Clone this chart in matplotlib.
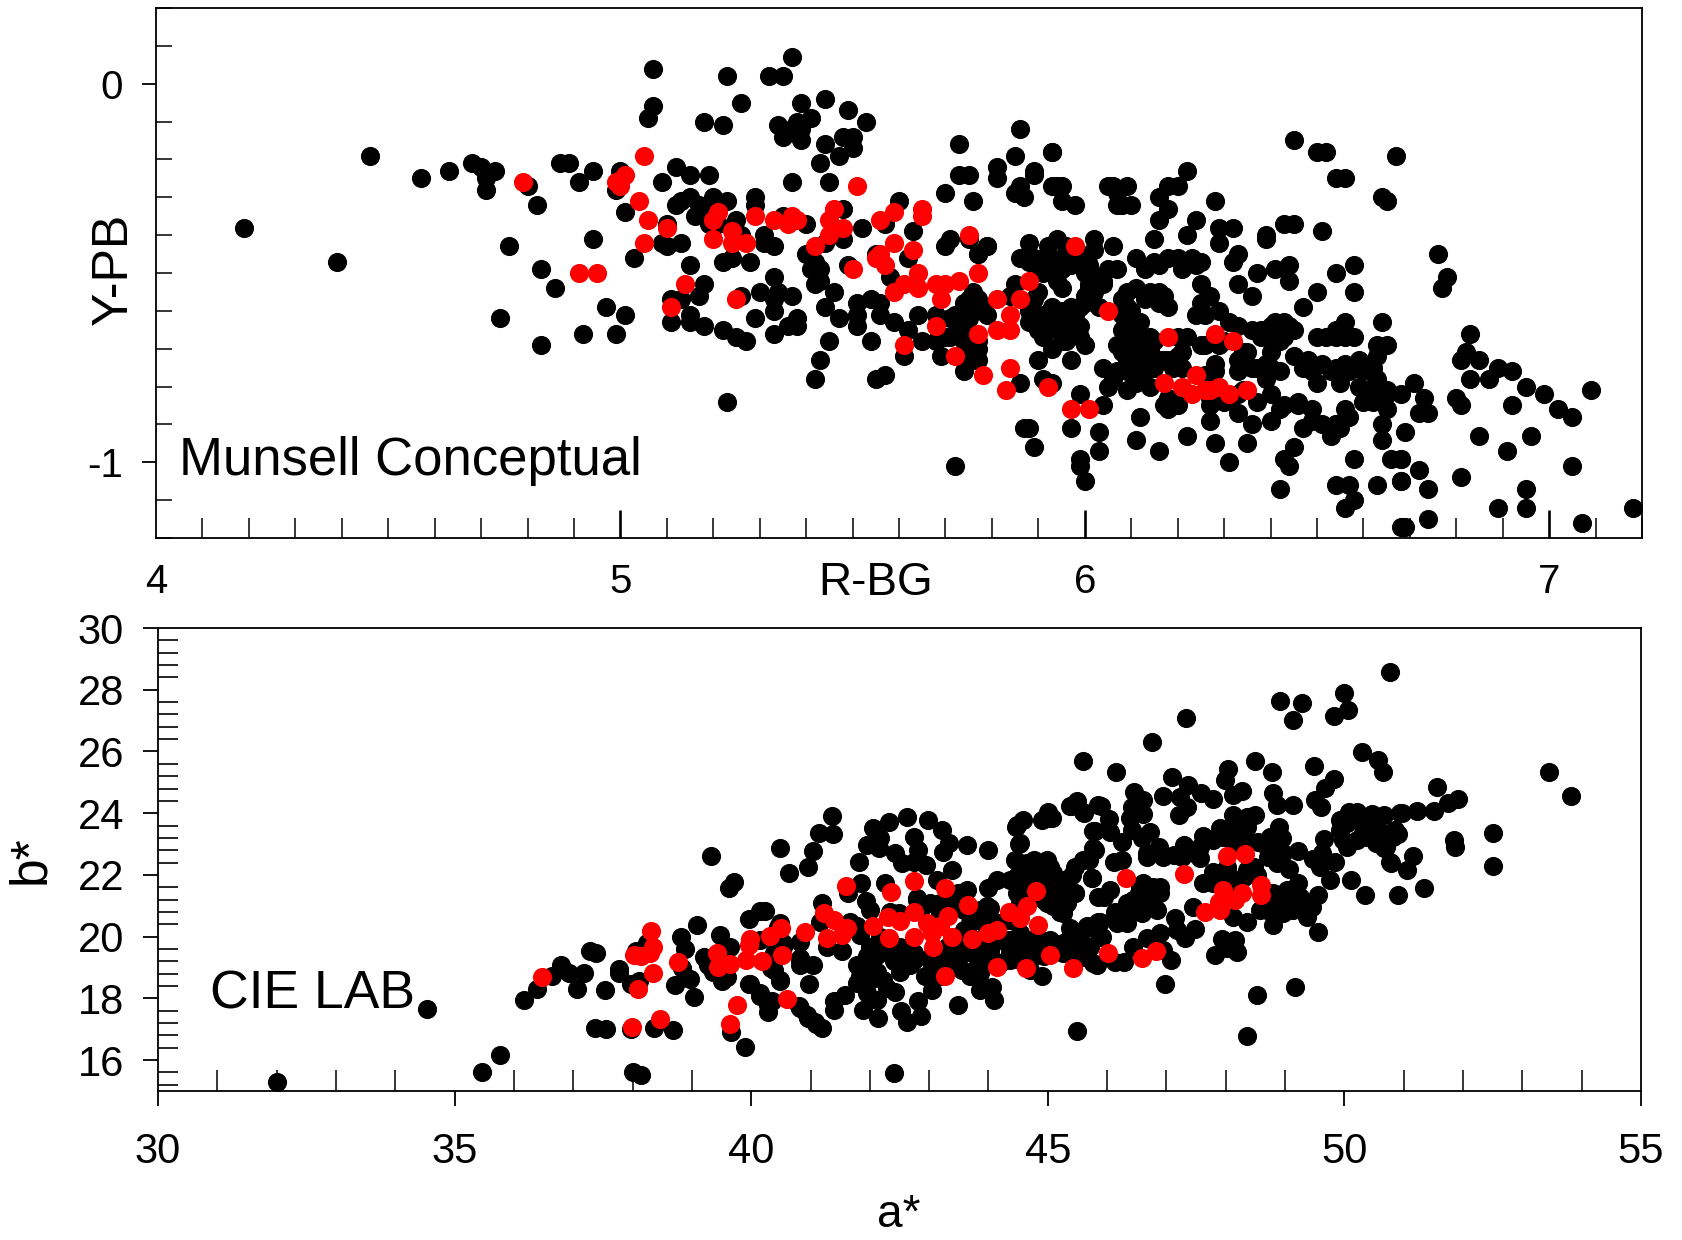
import matplotlib
matplotlib.use('Agg')
import matplotlib.pyplot as plt
from matplotlib.ticker import MultipleLocator

plt.rcParams['font.family'] = ['Liberation Sans', 'DejaVu Sans']
plt.rcParams['axes.unicode_minus'] = False

# (R-BG, Y-PB) values
munsell_black_left = [
    (4.19,-0.38),(4.39,-0.47),(4.46,-0.19),(4.57,-0.25),(4.63,-0.23),(4.68,-0.21),(4.70,-0.22),(4.73,-0.23),
    (4.71,-0.25),(4.71,-0.28),(4.80,-0.27),(4.82,-0.32),(4.87,-0.21),(4.89,-0.21),(4.91,-0.26),(4.94,-0.23),
    (4.94,-0.41),(4.76,-0.43),(4.83,-0.49),(4.86,-0.54),(4.74,-0.62),(4.83,-0.69),(4.92,-0.66),
]
munsell_black_mid = [
    (5.37,0.07),(5.07,0.04),(5.23,0.02),(5.32,0.02),(5.35,0.02),(5.26,-0.05),(5.07,-0.06),(5.06,-0.09),
    (5.18,-0.10),(5.22,-0.11),(5.39,-0.05),(5.44,-0.04),(5.49,-0.07),(5.53,-0.10),(5.34,-0.11),(5.41,-0.09),
    (5.38,-0.10),(5.37,-0.12),(5.39,-0.12),(5.35,-0.14),(5.39,-0.15),(5.48,-0.14),(5.50,-0.14),(5.44,-0.16),
    (5.50,-0.17),(5.47,-0.19),(5.43,-0.21),(5.37,-0.26),(5.45,-0.26),(5.73,-0.16),(5.86,-0.12),(5.85,-0.19),
    (5.81,-0.22),(5.89,-0.23),(5.73,-0.24),(5.75,-0.24),(5.81,-0.25),(5.89,-0.24),(5.86,-0.27),(5.85,-0.29),
    (5.87,-0.30),(5.70,-0.29),(5.76,-0.31),(5.93,-0.18),(5.93,-0.27),(5.60,-0.31),(5.00,-0.23),(4.99,-0.28),
    (5.12,-0.22),(5.15,-0.24),(5.19,-0.24),(5.09,-0.26),(5.01,-0.34),(5.12,-0.32),(5.15,-0.30),(5.13,-0.31),
    (5.17,-0.32),(5.20,-0.30),(5.23,-0.31),(5.29,-0.30),(5.29,-0.32),(5.16,-0.35),(5.18,-0.34),(5.25,-0.36),
    (5.10,-0.37),(5.19,-0.37),(5.21,-0.37),(5.09,-0.42),(5.13,-0.42),(5.10,-0.43),(5.26,-0.40),(5.31,-0.40),
    (5.31,-0.42),(5.33,-0.43),(5.35,-0.35),(5.40,-0.37),(5.48,-0.33),(5.48,-0.41),(5.44,-0.42),(5.52,-0.38),
    (5.57,-0.37),(5.63,-0.39),(5.71,-0.41),(5.70,-0.43),(5.75,-0.41),(5.79,-0.43),(5.77,-0.45),(5.03,-0.46),
    (5.15,-0.48),(5.22,-0.47),(5.24,-0.46),(5.28,-0.47),(5.40,-0.45),(5.42,-0.47),(5.41,-0.49),(5.43,-0.49),
    (5.49,-0.48),(5.55,-0.45),(5.62,-0.46),(5.58,-0.51),(5.33,-0.51),(5.42,-0.53),(5.43,-0.52),(5.18,-0.53),
    (5.17,-0.56),(5.30,-0.55),(5.34,-0.55),(5.37,-0.56),(5.46,-0.55),(5.33,-0.57),(5.33,-0.60),(5.26,-0.56),
    (5.11,-0.57),(5.13,-0.57),(4.97,-0.59),(5.01,-0.61),(4.99,-0.66),(5.15,-0.61),(5.11,-0.63),(5.15,-0.63),
    (5.18,-0.64),(5.22,-0.65),(5.25,-0.67),(5.27,-0.68),(5.29,-0.62),(5.33,-0.66),(5.36,-0.64),(5.38,-0.62),
    (5.38,-0.64),(5.44,-0.59),(5.47,-0.62),(5.45,-0.68),(5.43,-0.73),(5.42,-0.78),(5.23,-0.84),(5.51,-0.58),
    (5.54,-0.57),(5.56,-0.58),(5.51,-0.61),(5.51,-0.64),(5.56,-0.61),(5.59,-0.63),(5.54,-0.68),(5.55,-0.78),
    (5.57,-0.77),(5.62,-0.65),(5.64,-0.61),(5.65,-0.68),(5.68,-0.61),(5.70,-0.67),(5.69,-0.72),(5.61,-0.72),
    (5.68,-0.68),
]
munsell_black_right = [
    (5.93,-0.18),(5.94,-0.27),(5.95,-0.27),(5.95,-0.31),(5.98,-0.32),(6.05,-0.27),(6.06,-0.27),(6.09,-0.27),
    (6.07,-0.32),(6.08,-0.32),(6.10,-0.32),(6.07,-0.29),(6.18,-0.27),(6.20,-0.27),(6.22,-0.23),(6.16,-0.30),
    (6.18,-0.33),(6.16,-0.36),(6.15,-0.41),(6.22,-0.40),(6.24,-0.36),(6.28,-0.31),(6.29,-0.38),(6.32,-0.38),
    (6.29,-0.42),(6.39,-0.40),(6.39,-0.41),(6.43,-0.37),(6.45,-0.37),(6.51,-0.39),(6.50,-0.18),(6.52,-0.18),
    (6.54,-0.25),(6.56,-0.25),(6.45,-0.15),(6.64,-0.30),(6.65,-0.31),(6.67,-0.19),(6.33,-0.45),(6.32,-0.47),
    (6.37,-0.50),(6.41,-0.49),(6.44,-0.48),(6.44,-0.52),(6.33,-0.53),(6.36,-0.56),(6.54,-0.50),(6.58,-0.48),
    (6.58,-0.55),(6.50,-0.55),(6.47,-0.59),(6.64,-0.63),(6.56,-0.63),(6.54,-0.65),(6.52,-0.67),(6.50,-0.67),
    (6.54,-0.67),(6.56,-0.67),(6.58,-0.67),(6.63,-0.69),(6.65,-0.69),(5.79,-0.43),(5.77,-0.45),(5.88,-0.42),
    (5.92,-0.43),(5.94,-0.41),(5.96,-0.43),(6.02,-0.41),(6.02,-0.44),(6.06,-0.43),(5.86,-0.46),(5.89,-0.46),
    (5.91,-0.46),(5.93,-0.47),(5.97,-0.48),(6.01,-0.48),(5.93,-0.50),(5.95,-0.54),(5.94,-0.52),(6.01,-0.53),
    (6.04,-0.53),(6.05,-0.49),(6.07,-0.49),(6.03,-0.51),(6.01,-0.54),(6.00,-0.58),(6.11,-0.46),(6.13,-0.49),
    (6.15,-0.47),(6.16,-0.48),(6.18,-0.46),(6.20,-0.46),(6.21,-0.49),(6.23,-0.46),(6.24,-0.48),(6.25,-0.47),
    (6.25,-0.53),(6.27,-0.56),(6.25,-0.58),(6.29,-0.60),(6.24,-0.61),(6.26,-0.61),(6.09,-0.55),(6.11,-0.54),
    (6.14,-0.55),(6.16,-0.55),(6.13,-0.57),(6.16,-0.58),(6.18,-0.59),(6.17,-0.56),(6.09,-0.59),(6.09,-0.62),
    (6.12,-0.63),(6.11,-0.66),(6.14,-0.67),(6.07,-0.69),(6.10,-0.69),(6.12,-0.70),(6.14,-0.70),(6.09,-0.73),
    (6.12,-0.73),(6.09,-0.76),(6.12,-0.76),(6.04,-0.75),(6.06,-0.78),(6.05,-0.80),(6.09,-0.81),(6.11,-0.79),
    (6.14,-0.80),(6.16,-0.73),(6.18,-0.73),(6.20,-0.72),(6.21,-0.75),(6.28,-0.74),(6.26,-0.77),(6.20,-0.67),
    (6.22,-0.67),(6.25,-0.69),(6.26,-0.69),(6.30,-0.68),(6.31,-0.63),(6.33,-0.64),(6.36,-0.65),(6.35,-0.71),
    (6.33,-0.73),(6.33,-0.76),(6.40,-0.64),(6.43,-0.63),(6.45,-0.65),(6.38,-0.67),(6.40,-0.67),(6.43,-0.67),
    (6.40,-0.71),(6.37,-0.75),(6.42,-0.76),(6.39,-0.78),(6.40,-0.82),(6.37,-0.84),(6.42,-0.86),(6.40,-0.89),
    (6.46,-0.84),(6.45,-0.72),(6.48,-0.73),(6.47,-0.75),(6.51,-0.74),(6.50,-0.79),(6.53,-0.76),(6.56,-0.74),
    (6.55,-0.79),(6.59,-0.73),(6.60,-0.74),(6.63,-0.72),(6.62,-0.75),(6.63,-0.78),(6.59,-0.80),(6.60,-0.84),
    (6.62,-0.84),(6.65,-0.86),(6.65,-0.81),(6.68,-0.82),(6.64,-0.90),(6.64,-0.94),(6.49,-0.86),(6.47,-0.91),
    (6.51,-0.90),(6.53,-0.93),(6.54,-0.90),(6.56,-0.86),(6.55,-0.91),(6.57,-0.88),(6.45,-0.96),(6.43,-0.99),
    (6.44,-1.01),(6.58,-0.99),(6.66,-0.99),(6.68,-0.99),(6.42,-1.07),(6.54,-1.06),(6.57,-1.06),(6.63,-1.06),
    (6.68,-1.05),(6.58,-1.10),(6.56,-1.12),(6.68,-1.17),(6.31,-1.00),(6.28,-0.95),(6.35,-0.95),(6.22,-0.93),
    (6.16,-0.97),(6.11,-0.94),(6.12,-0.88),(6.36,-0.90),(6.33,-0.87),(6.27,-0.89),(6.27,-0.85),(6.30,-0.84),
    (6.17,-0.85),(6.18,-0.86),(6.20,-0.85),(6.03,-0.92),(6.03,-0.97),(5.97,-0.91),(6.04,-0.85),(5.99,-0.82),
    (5.87,-0.91),(5.88,-0.91),(5.89,-0.96),(5.99,-0.99),(5.99,-1.01),(6.00,-1.05),(5.72,-1.01),(5.91,-0.78),
    (5.93,-0.79),(5.86,-0.79),(5.90,-0.73),(5.97,-0.73),(6.00,-0.69),(5.93,-0.70),(5.95,-0.68),(5.93,-0.59),
    (5.97,-0.59),(5.91,-0.61),(5.94,-0.61),(5.96,-0.62),(5.99,-0.64),(5.92,-0.65),(5.96,-0.66),(5.88,-0.63),
    (5.88,-0.60),(5.90,-0.55),(5.89,-0.57),(5.85,-0.53),(5.84,-0.56),(5.76,-0.55),(5.74,-0.60),(5.76,-0.60),
    (5.79,-0.61),(5.72,-0.61),(5.77,-0.57),(5.71,-0.62),(5.74,-0.68),(5.77,-0.70),(5.77,-0.73),(5.76,-0.73),
    (5.74,-0.76),(5.74,-0.65),(5.71,-0.67),
    (6.76,-0.45),(6.78,-0.51),(6.77,-0.54),(6.83,-0.66),(6.82,-0.71),(6.81,-0.73),(6.85,-0.73),(6.89,-0.75),
    (6.92,-0.76),(6.83,-0.78),(6.87,-0.78),(6.95,-0.80),(6.99,-0.82),(7.09,-0.81),(6.80,-0.83),(6.81,-0.85),
    (6.92,-0.85),(7.02,-0.86),(7.05,-0.88),(6.85,-0.93),(6.96,-0.93),(6.91,-0.97),(7.05,-1.01),(6.81,-1.04),
    (6.95,-1.07),(6.89,-1.12),(6.95,-1.12),(6.74,-1.15),(6.69,-1.17),(7.07,-1.16),(7.18,-1.12),(6.74,-1.07),
    (6.68,-1.05),(6.72,-1.02),(6.68,-0.99),(6.69,-0.92),(6.71,-0.79),(6.73,-0.83),(6.72,-0.87),(6.74,-0.87),
]
# points read from the solid clusters, where single dots are hard to separate
munsell_black_dense = [
    (5.88,-0.47),(5.90,-0.48),(5.95,-0.46),(5.99,-0.45),(5.95,-0.49),(6.00,-0.50),(5.91,-0.50),(5.89,-0.61),
    (5.93,-0.62),(5.95,-0.60),(5.99,-0.59),(5.98,-0.61),(5.94,-0.64),(5.90,-0.65),(5.99,-0.67),(5.96,-0.68),
    (5.91,-0.67),(6.08,-0.71),(6.10,-0.71),(6.13,-0.71),(6.10,-0.76),(6.13,-0.76),(6.15,-0.75),(6.07,-0.76),
    (6.10,-0.66),(6.13,-0.68),(6.15,-0.68),(6.08,-0.65),(6.08,-0.61),(6.08,-0.57),(6.10,-0.60),(6.17,-0.73),
    (6.19,-0.75),(6.04,-0.52),(6.02,-0.55),(6.00,-0.56),(6.03,-0.59),(5.78,-0.59),(5.75,-0.62),(5.73,-0.64),
    (5.76,-0.69),(5.75,-0.72),(5.77,-0.68),(5.74,-0.58),(5.75,-0.57),(6.60,-0.76),(6.57,-0.76),(6.54,-0.75),
    (6.49,-0.76),(6.62,-0.80),(6.65,-0.82),(6.46,-0.85),(6.43,-0.85),(6.36,-0.75),(6.40,-0.75),(6.39,-0.74),
    (6.34,-0.71),(6.29,-0.69),(6.54,-0.90),(6.49,-0.89),(6.42,-0.68),(6.38,-0.65),(6.41,-0.63),(6.44,-0.64),
    (6.21,-0.71),(6.20,-0.73),(6.28,-0.76),(6.27,-0.83),(6.18,-0.83),(6.31,-0.83),(6.34,-0.81),(6.33,-0.82),
]
munsell_red = [
    (4.79,-0.26),(4.91,-0.50),(4.95,-0.50),(5.05,-0.19),(5.01,-0.24),(4.99,-0.26),(5.00,-0.27),(5.04,-0.31),
    (5.06,-0.36),(5.05,-0.42),(5.10,-0.38),(5.21,-0.34),(5.20,-0.36),(5.20,-0.41),(5.24,-0.39),(5.24,-0.42),
    (5.27,-0.42),(5.29,-0.35),(5.33,-0.36),(5.36,-0.37),(5.37,-0.35),(5.38,-0.36),(5.14,-0.53),(5.25,-0.57),
    (5.11,-0.59),(5.42,-0.43),(5.45,-0.36),(5.46,-0.33),(5.45,-0.40),(5.48,-0.38),(5.51,-0.27),(5.50,-0.49),
    (5.56,-0.36),(5.59,-0.34),(5.65,-0.33),(5.65,-0.35),(5.59,-0.42),(5.63,-0.44),(5.56,-0.45),(5.55,-0.46),
    (5.57,-0.48),(5.64,-0.50),(5.61,-0.53),(5.59,-0.55),(5.64,-0.54),(5.68,-0.53),(5.70,-0.53),(5.73,-0.52),
    (5.69,-0.57),(5.75,-0.40),(5.77,-0.50),(5.68,-0.64),(5.61,-0.69),(5.72,-0.72),(5.78,-0.77),(5.84,-0.75),
    (5.83,-0.81),(5.81,-0.57),(5.86,-0.57),(5.88,-0.52),(5.84,-0.61),(5.77,-0.66),(5.81,-0.65),(5.84,-0.65),
    (5.92,-0.80),(5.98,-0.43),(6.05,-0.60),(6.18,-0.67),(6.28,-0.66),(6.32,-0.68),(6.17,-0.79),(6.21,-0.80),
    (6.24,-0.77),(6.23,-0.82),(6.26,-0.81),(6.27,-0.81),(6.29,-0.80),(6.31,-0.82),(6.35,-0.81),(5.97,-0.86),
    (6.01,-0.86),
]

# (a*, b*) values
lab_black_left = [
    (32.0,15.28),(34.53,17.66),(35.47,15.6),(35.77,16.17),(36.17,17.94),(36.39,18.29),(36.64,18.74),(36.80,19.07),
    (36.93,18.81),(37.07,18.29),(37.18,18.81),(37.29,19.53),(37.38,19.46),(37.54,18.26),(37.37,17.03),(37.55,17.01),
    (37.77,18.94),(37.77,18.81),(37.97,17.0),(38.0,15.62),(38.15,15.53),(37.97,18.48),(38.11,18.55),(38.06,19.53),
    (38.24,19.79),(38.36,17.05),(38.68,16.97),(38.72,18.42),(38.81,19.98),(38.88,19.59),(38.83,19.0),(38.97,18.64),
    (39.03,18.03),(39.08,20.37),(39.2,19.33),(39.33,22.61),(39.27,19.07),(39.47,20.07),(39.51,18.55),(39.6,18.68),
    (39.62,21.57),(39.71,21.78),(39.65,19.66),(39.66,16.92),(39.89,16.44),(39.97,20.57),(39.98,18.48),(40.14,20.83),
    (40.24,20.83),(40.14,18.09),(40.28,17.77),(40.28,17.57),(40.33,19.0),(40.46,20.31),(40.49,18.55),(40.49,22.87),
    (40.64,22.05),(40.96,22.26),(41.05,22.78),(40.98,18.48),(40.82,19.26),(41.05,19.07),(41.14,23.36),(41.37,23.92),
    (41.38,23.34),(41.19,21.09),(40.82,17.7),(40.96,17.38),(41.1,17.18),(41.19,17.03),
]
lab_black_mid = [
    (42.06,23.51),(42.33,23.73),(42.63,23.87),(42.98,23.78),(43.22,23.46),(42.75,23.24),(42.17,23.19),(41.95,22.97),
    (42.15,22.87),(42.82,22.81),(42.43,22.70),(41.82,22.43),(42.54,22.38),(42.74,22.43),(42.94,22.33),(43.33,23.03),
    (43.24,22.73),(43.63,22.97),(44.0,22.81),(43.39,22.16),(41.85,21.73),(41.64,21.41),(42.26,21.73),(43.13,21.84),
    (44.15,21.84),(44.0,21.57),(43.63,21.52),(43.49,21.41),(42.79,21.25),(43.18,21.08),(41.93,21.14),(42.0,20.87),
    (42.49,20.76),(42.34,20.81),(44.03,20.92),(43.86,20.87),(41.67,20.49),(41.16,20.49),(42.17,20.0),(41.84,20.06),
    (42.0,19.68),(42.12,19.41),(42.62,19.57),(42.74,19.46),(42.40,19.2),(42.68,19.09),(42.51,18.87),(41.78,19.09),
    (41.89,19.09),(42.12,18.87),(41.78,18.5),(42.0,18.6),(42.29,18.33),(42.43,18.22),(42.12,17.95),(41.95,18.17),
    (41.58,18.11),(41.39,17.9),(41.4,17.63),(41.89,17.63),(42.13,17.36),(42.53,17.58),(42.62,17.25),(42.86,17.44),
    (42.82,17.9),(42.93,18.71),(43.04,18.28),(43.49,17.79),(43.19,19.03),(43.35,19.25),(43.55,18.92),(43.86,18.82),
    (43.86,18.28),(44.06,18.38),(44.1,17.95),(45.49,16.95),(42.4,15.58),(40.35,17.9),(40.15,18.17),(39.97,18.47),
    (40.48,18.6),(40.83,19.3),(40.83,19.09),(40.38,18.92),(40.8,17.74),(40.94,17.47),(41.07,17.25),(40.49,20.44),
    (41.27,19.68),(41.53,19.52),(40.83,19.84),(40.54,19.79),(43.18,18.71),(43.02,19.25),(43.24,19.57),(43.58,19.46),
    (43.8,19.36),(44.03,19.57),(44.36,19.46),(44.65,19.68),(44.76,19.36),(44.9,18.71),(44.7,18.92),(44.53,19.25),
    (44.2,19.14),(44.03,20.11),(44.25,19.9),(43.63,20.0),(43.92,20.44),(43.69,20.44),(43.58,20.87),(43.41,21.2),
    (42.9,20.98),(44.36,21.84),(44.48,23.62),(44.59,23.78),(44.53,23.03),(44.45,22.49),(44.76,22.49),(44.98,22.49),
    (45.01,24.05),(44.9,23.78),(45.04,23.84),(45.38,24.22),(45.49,24.38),(45.6,24.05),(45.85,24.27),(45.77,23.41),
    (45.77,22.87),(45.6,22.49),(45.46,22.27),(45.09,22.06),(45.74,21.9),(44.48,21.95),(44.7,21.95),(44.93,21.84),
    (44.48,21.41),(45.18,21.41),(45.46,21.41),(45.32,21.08),(45.21,20.81),(44.98,21.08),(44.76,21.3),(45.38,20.27),
    (45.66,20.33),(45.85,21.3),(45.85,20.49),(45.32,19.79),(45.26,19.46),(45.66,19.68),(45.77,19.14),(45.54,19.36),
    (45.09,19.79),
]
lab_black_right = [
    (46.75,26.32),(45.59,25.69),(46.15,25.35),(48.49,25.7),(48.78,25.35),(50.29,25.97),(50.57,25.72),(50.65,25.35),
    (49.49,25.53),(49.82,25.1),(49.67,24.81),(49.5,24.43),(49.6,24.19),(48.03,25.42),(47.99,25.08),(48.28,24.72),
    (48.13,24.59),(48.8,24.66),(48.86,24.27),(49.13,24.26),(47.1,25.16),(47.36,24.91),(46.95,24.57),(47.23,24.54),
    (47.58,24.66),(47.79,24.46),(47.34,24.21),(47.21,23.94),(46.46,24.7),(46.61,24.43),(46.42,24.21),(46.61,23.96),
    (46.39,23.83),(45.9,24.23),(46.03,23.81),(45.79,23.42),(46.05,23.4),(46.25,23.08),(46.72,23.4),(46.58,23.19),
    (45.39,24.23),(45.61,24.02),(45.07,23.83),(44.46,23.56),(44.52,22.99),(45.8,22.8),(45.69,22.49),(45.4,22.0),
    (45.75,21.91),(45.46,21.43),(45.2,20.81),(46.11,22.43),(46.25,22.48),(46.05,21.51),(45.94,21.3),(46.67,22.59),
    (46.88,22.92),(46.95,22.59),(47.29,22.97),(47.12,22.65),(47.57,22.54),(47.62,23.27),(47.79,23.13),(47.9,23.51),
    (48.13,23.94),(48.35,23.89),(48.49,23.94),(48.35,23.56),(48.13,23.02),(48.55,23.08),(48.75,23.24),(48.9,23.56),
    (48.94,23.19),(49.21,22.79),(48.72,22.59),(48.86,22.38),(49.06,22.18),(49.47,22.5),(49.62,22.7),(49.84,22.43),
    (49.59,22.27),(49.76,21.84),(49.65,23.15),(49.93,23.78),(50.07,24.05),(50.21,24.05),(50.46,23.98),(50.66,23.94),
    (50.94,24.0),(49.93,23.46),(50.04,22.92),(50.21,23.13),(50.38,23.24),(50.54,23.02),(50.77,23.35),(50.85,23.46),
    (50.66,22.86),(50.77,22.43),(50.11,21.84),(50.35,21.35),(50.91,21.35),(47.45,20.97),(47.15,20.59),(47.48,20.24),
    (47.17,20.2),(47.32,19.95),(46.89,20.11),(46.67,19.95),(46.44,19.68),(46.28,19.19),(46.14,19.19),(46.95,19.57),
    (47.07,19.25),(46.98,18.46),(47.93,19.91),(48.16,19.89),(47.82,19.41),(48.19,19.51),(48.02,19.62),(48.53,18.11),
    (49.17,18.38),(49.56,20.14),(48.8,20.38),(48.35,20.49),(48.13,20.65),(48.58,20.86),(48.97,20.76),(49.37,20.65),
    (49.45,20.97),(49.56,21.35),(49.22,21.73),(49.03,21.19),(48.8,21.4),(49.17,21.13),(48.52,22.0),(48.3,21.94),
    (48.07,21.94),(47.79,22.11),(47.62,21.73),(47.46,22.7),(46.89,21.62),(46.89,21.4),(46.84,20.86),(46.58,20.76),
    (46.61,21.73),(46.53,21.4),(46.33,21.08),(46.14,20.81),(46.16,20.43),(46.33,20.43),(45.88,20.49),(45.91,20.0),
    (45.66,20.27),(45.4,20.2),(45.26,19.78),(45.49,19.89),(45.71,19.68),(45.46,19.46),(45.63,19.35),(45.83,19.08),
    (45.29,21.3),(45.04,22.05),(44.53,21.51),(45.04,21.4),(44.82,20.0),(44.53,19.57),(44.37,19.9),
    (50.77,28.59),(49.99,27.88),(50.06,27.33),(49.82,27.14),(49.29,27.57),(48.91,27.62),(49.13,27.03),(47.33,27.07),
    (53.45,25.32),(53.82,24.57),(52.5,23.36),(52.5,22.3),(51.84,23.13),(51.87,22.91),(51.92,24.47),(51.74,24.34),
    (51.56,24.86),(51.51,24.08),(51.22,24.08),(50.97,24.01),(51.15,22.62),(51.06,22.17),(50.79,22.39),(51.35,21.58),
    (50.9,23.32),(50.7,22.91),(48.36,16.79),
]
lab_black_dense = [
    (44.65,22.38),(44.87,22.16),(45.09,21.62),(44.59,21.84),(44.76,21.73),(44.98,21.52),(45.26,21.84),(45.26,20.76),
    (45.09,20.98),(43.97,20.98),(43.8,20.76),(43.97,20.54),(44.2,20.44),(43.58,20.22),(43.58,19.79),(43.8,19.9),
    (44.03,19.79),(44.31,19.79),(44.53,19.9),(44.81,19.9),(43.07,19.46),(43.3,19.68),(43.41,19.36),(45.04,19.9),
    (44.93,19.36),(44.36,19.25),(44.08,19.25),(43.8,19.03),(43.69,18.71),(42.29,19.68),(42.45,19.46),(42.74,19.25),
    (42.51,19.68),(41.95,19.36),(42.0,18.71),(41.84,18.71),(42.23,18.6),(41.78,20.33),(42.79,21.19),(43.02,21.08),
    (43.18,20.76),(39.36,18.87),(40.15,19.9),(40.38,19.46),(40.54,19.68),
    (44.53,22.38),(44.82,22.38),(45.04,22.27),(44.53,21.84),(44.82,21.94),(45.15,21.62),(44.53,21.08),(44.93,21.19),
    (45.12,21.08),(45.21,21.3),(44.37,20.54),(44.53,20.11),(44.31,19.89),(45.38,20.0),(45.55,19.68),(45.88,20.0),
    (45.32,19.57),(45.55,19.35),(46.56,21.62),(46.78,21.62),(46.56,20.97),(46.78,20.97),(46.44,21.19),(46.67,21.3),
    (46.33,20.65),(46.16,20.65),(48.69,20.86),(48.86,20.86),(49.14,20.86),(49.31,20.97),(49.03,21.51),(49.25,21.3),
    (48.47,22.27),(48.35,22.16),(48.02,22.27),(47.85,22.05),(47.79,21.73),(48.13,21.73),(50.04,23.67),(50.32,23.67),
    (50.32,23.35),(50.54,23.56),(49.98,23.13),(50.82,23.24),(48.97,22.7),(48.69,22.92),(47.96,23.24),(48.13,23.46),
    (48.33,23.24),(46.42,23.46),(46.67,22.7),(47.26,22.59),(47.57,22.92),
]
lab_red = [
    (36.47,18.68),(37.99,17.08),(38.02,19.4),(38.15,19.37),(38.29,19.46),(38.34,19.66),(38.31,20.18),(38.35,18.83),
    (38.09,18.29),(38.47,17.34),(38.77,19.17),(39.42,19.46),(39.44,19.03),(39.65,19.13),(39.65,17.17),(39.76,17.77),
    (39.92,19.26),(39.98,19.92),(39.96,19.72),(40.19,19.2),(40.31,20.02),(40.51,20.27),(40.52,19.4),(40.6,17.99),
    (40.91,20.14),(41.6,21.65),(41.22,20.76),(41.39,20.54),(41.27,19.95),(41.53,20.06),(41.61,20.27),(42.06,20.35),
    (42.31,20.65),(42.51,20.52),(42.33,19.95),(42.36,21.46),(42.75,21.81),(42.75,20.81),(42.75,20.0),(42.96,20.44),
    (43.04,20.11),(43.06,19.65),(43.27,21.57),(43.31,20.68),(43.38,20.0),(43.27,18.71),(43.66,21.01),(43.73,19.92),
    (44.0,20.11),(44.14,20.22),(44.14,19.01),(44.34,20.79),(44.53,20.6),(44.65,20.98),(44.83,20.38),(44.8,21.48),
    (44.63,18.98),(45.03,19.41),(45.43,18.98),(43.18,20.33),(46.31,21.89),(47.29,22.03),(48.02,22.62),(48.32,22.68),
    (47.95,21.51),(48.59,21.67),(48.59,21.35),(48.27,21.4),(48.16,21.19),(47.88,21.13),(47.9,20.86),(47.65,20.81),
    (46.01,19.46),(46.58,19.3),(46.83,19.54),
]

munsell_xticks = [4, 5, 6, 7]
munsell_yticks = [-1, 0]
lab_xticks = [30, 35, 40, 45, 50, 55]
lab_yticks = [16, 18, 20, 22, 24, 26, 28, 30]

W, H = 1682.0, 1240.0
fig = plt.figure(figsize=(W / 100, H / 100), dpi=100)
ax1 = fig.add_axes([156 / W, 1 - 538 / H, (1642 - 156) / W, (538 - 8) / H])
ax2 = fig.add_axes([158 / W, 1 - 1091 / H, (1641 - 158) / W, (1091 - 628) / H])

dot = 190  # marker area, about 19 px across


def draw_dots(ax, black, red):
    bx, by = zip(*black)
    rx, ry = zip(*red)
    ax.scatter(bx, by, s=dot, c='black', linewidths=0, zorder=3)
    ax.scatter(rx, ry, s=dot, c='#ff0000', linewidths=0, zorder=4)


draw_dots(ax1, munsell_black_left + munsell_black_mid + munsell_black_right + munsell_black_dense, munsell_red)
draw_dots(ax2, lab_black_left + lab_black_mid + lab_black_right + lab_black_dense, lab_red)

# top panel
ax1.set_xlim(4, 7.2)
ax1.set_ylim(-1.2, 0.2)
ax1.set_xticks(munsell_xticks)
ax1.set_yticks(munsell_yticks)
ax1.xaxis.set_minor_locator(MultipleLocator(0.1))
ax1.yaxis.set_minor_locator(MultipleLocator(0.1))
ax1.tick_params(axis='x', which='major', direction='in', length=20, width=1.9, pad=18, labelsize=29)
ax1.tick_params(axis='x', which='minor', direction='in', length=14.5, width=1.1)
ax1.tick_params(axis='y', which='major', direction='out', length=10, width=1.3, pad=14, labelsize=29)
ax1.tick_params(axis='y', which='minor', direction='in', length=11.5, width=1.1)
ax1.xaxis.get_major_ticks()[0].tick1line.set_visible(False)
ax1.text(4.05, -1.034, 'Munsell Conceptual', fontsize=38, va='baseline', ha='left')
ax1.text(5.55, -1.32, 'R-BG', fontsize=33, va='center', ha='center', clip_on=False)
ax1.text(3.91, -0.49, 'Y-PB', fontsize=36, va='center', ha='center', rotation=90, clip_on=False)

# bottom panel
ax2.set_xlim(30, 55)
ax2.set_ylim(15, 30)
ax2.set_xticks(lab_xticks)
ax2.set_yticks(lab_yticks)
ax2.xaxis.set_minor_locator(MultipleLocator(1))
ax2.yaxis.set_minor_locator(MultipleLocator(0.4))
ax2.tick_params(axis='x', which='major', direction='out', length=10.5, width=1.3, pad=19, labelsize=30)
ax2.tick_params(axis='x', which='minor', direction='in', length=15, width=1.1)
ax2.tick_params(axis='y', which='major', direction='out', length=10.5, width=1.3, pad=14, labelsize=30)
ax2.tick_params(axis='y', which='minor', direction='in', length=14.5, width=1.2)
ax2.text(30.87, 17.66, 'CIE LAB', fontsize=38.5, va='baseline', ha='left')
ax2.text(42.48, 10.98, 'a*', fontsize=33, va='center', ha='center', clip_on=False)
ax2.text(27.86, 22.48, 'b*', fontsize=37, va='center', ha='center', rotation=90, clip_on=False)

for ax in (ax1, ax2):
    for spine in ax.spines.values():
        spine.set_linewidth(1.3)

fig.savefig('out.png', dpi=100)
